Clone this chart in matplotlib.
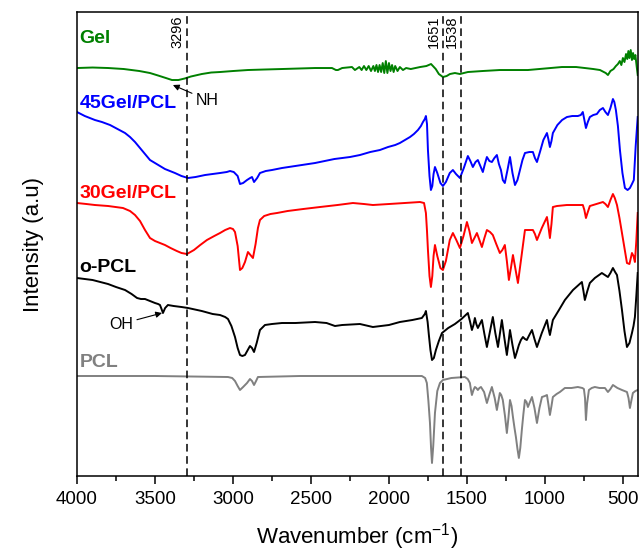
import matplotlib.pyplot as plt
from matplotlib.ticker import MultipleLocator
import matplotlib.transforms as mtransforms

plt.rcParams['font.family'] = ['Liberation Sans', 'DejaVu Sans']
plt.rcParams['mathtext.fontset'] = 'custom'
plt.rcParams['mathtext.rm'] = 'Liberation Sans'

# FTIR spectra, offset for display (arbitrary intensity units)
gel_wn = [4000, 3900, 3800, 3700, 3600, 3532, 3480, 3430, 3391, 3350, 3310, 3270,
          3200, 3140, 3083, 3000, 2904, 2800, 2686, 2580, 2474, 2365, 2340, 2327,
          2300, 2237, 2218,
          2190, 2175, 2160, 2145, 2130, 2115, 2100, 2090, 2080, 2070, 2060, 2050,
          2040, 2030, 2020, 2010, 2000, 1990, 1980, 1970, 1960, 1945, 1930, 1910,
          1890, 1860, 1830, 1800, 1760, 1730, 1700, 1680, 1654, 1630, 1609, 1577,
          1545, 1520, 1494, 1400, 1289, 1200, 1109, 1000, 891, 800, 744, 690, 647,
          610, 596, 580, 560, 545, 532, 520, 510, 500, 490, 480, 472, 465, 458,
          450, 442, 435, 428, 420, 412, 405]
gel_int = [408, 408.5, 408, 407, 405, 403, 400.5, 398, 396, 396, 397.5, 399.5,
           402, 403.5, 404, 405, 406, 406.5, 407, 407.5, 408, 408, 406, 406,
           408, 409, 406,
           409, 406, 410, 406, 410, 405, 410, 405, 411, 404, 411, 404,
           413, 403, 415, 403, 413, 405, 411, 404, 410, 405, 409, 406,
           408, 407, 408, 409, 410, 412, 407, 402, 399, 400, 402, 403,
           402, 403, 404, 405, 406, 406, 406, 407.5, 409, 409, 408, 407, 406,
           403, 401, 405, 407, 410, 412, 415, 411, 418, 414, 422, 417, 425, 418,
           426, 416, 423, 417, 421, 410, 401]

gel45_wn = [4000, 3950, 3885, 3840, 3788, 3740, 3692, 3660, 3628, 3596, 3564, 3532,
            3500, 3468, 3436, 3404, 3372, 3330, 3288, 3240, 3179, 3130, 3083, 3040,
            3019, 2995, 2970, 2955, 2935, 2910, 2890, 2878, 2865, 2845, 2827, 2790,
            2750, 2686, 2600, 2474, 2350, 2250, 2186, 2120, 2058, 2006, 1960, 1930,
            1897, 1865, 1840, 1814, 1795, 1782, 1770, 1763, 1756, 1750, 1740, 1731,
            1722, 1714, 1705, 1690, 1670, 1654, 1635, 1610, 1590, 1570, 1545, 1520,
            1494, 1478, 1462, 1445, 1430, 1414, 1398, 1385, 1372, 1356, 1340, 1324,
            1308, 1295, 1282, 1270, 1257, 1240, 1224, 1208, 1192, 1176, 1160, 1144,
            1128, 1100, 1077, 1064, 1051, 1030, 1010, 987, 978, 968, 958, 949, 920,
            890, 859, 825, 789, 770, 757, 747, 737, 725, 712, 690, 667, 648, 628,
            612, 596, 580, 564, 555, 545, 532, 519, 503, 487, 470, 455, 442, 430,
            418, 405]
gel45_int = [364, 360, 356, 354, 351, 347, 343, 339, 334, 328, 322, 316,
             313, 310, 307, 305, 303, 300, 298, 299, 301, 302, 303, 304,
             305, 304, 300, 292, 293, 296, 298, 299, 294, 298, 303, 305,
             306, 308, 310, 313, 317, 319, 321, 324, 326, 329, 331, 333,
             336, 339, 342, 346, 350, 354, 357, 360, 352, 326, 300, 286,
             290, 302, 309, 303, 293, 290, 294, 303, 306, 302, 298, 308,
             320, 315, 309, 314, 316, 310, 304, 312, 319, 315, 314, 318,
             321, 312, 306, 296, 293, 306, 319, 303, 291, 296, 306, 316,
             323, 324, 324, 318, 314, 325, 336, 343, 337, 329, 335, 343, 351,
             356, 359, 360, 360, 361, 364, 356, 348, 354, 359, 361, 362, 366, 368,
             364, 361, 368, 377, 374, 366, 350, 326, 303, 288, 286, 288, 292, 296,
             330, 359]

gel30_wn = [4000, 3940, 3885, 3800, 3705, 3660, 3628, 3596, 3564, 3532, 3500, 3468,
            3436, 3400, 3360, 3330, 3295, 3250, 3210, 3167, 3120, 3083, 3050, 3019,
            3000, 2987, 2970, 2955, 2940, 2923, 2904, 2888, 2872, 2855, 2840, 2827,
            2800, 2760, 2718, 2650, 2550, 2442, 2330, 2231, 2160, 2103, 2000, 1900,
            1801, 1775, 1763, 1756, 1750, 1740, 1731, 1722, 1714, 1705, 1690, 1670,
            1654, 1635, 1610, 1590, 1568, 1545, 1522, 1500, 1484, 1468, 1452, 1436,
            1420, 1404, 1388, 1372, 1352, 1334, 1312, 1289, 1273, 1257, 1244, 1231,
            1218, 1205, 1189, 1173, 1150, 1128, 1100, 1077, 1064, 1051, 1020, 987,
            978, 968, 958, 949, 923, 860, 800, 757, 747, 737, 725, 712, 670, 628,
            612, 596, 580, 564, 552, 538, 522, 506, 490, 474, 458, 442, 432, 423,
            414, 405]
gel30_int = [273, 272, 271, 270, 268, 265, 261, 255, 246, 238, 235, 233,
             231, 228, 225, 223, 222, 226, 231, 236, 240, 243, 246, 248,
             247, 244, 230, 206, 208, 214, 224, 221, 218, 232, 248, 256,
             260, 262, 263, 265, 267, 269, 271, 273, 272, 271, 272, 273,
             274, 273, 263, 245, 226, 200, 189, 200, 220, 231, 220, 208,
             206, 215, 236, 243, 236, 228, 240, 254, 245, 233, 238, 243,
             236, 229, 238, 246, 244, 241, 232, 223, 226, 231, 215, 196,
             208, 221, 207, 193, 220, 246, 246, 246, 242, 236, 248, 259,
             250, 238, 252, 269, 270, 271, 271, 271, 266, 258, 264, 270, 272, 274,
             272, 269, 276, 282, 278, 271, 258, 243, 228, 213, 212, 223, 220, 214,
             235, 263]

opcl_wn = [4000, 3949, 3900, 3850, 3801, 3750, 3692, 3650, 3615, 3590, 3564, 3532,
           3500, 3480, 3468, 3458, 3449, 3435, 3417, 3380, 3330, 3288, 3200, 3130,
           3083, 3050, 3032, 3010, 2987, 2970, 2955, 2940, 2923, 2905, 2891, 2878,
           2865, 2848, 2827, 2795, 2750, 2686, 2600, 2474, 2400, 2346, 2300, 2186,
           2103, 2000, 1930, 1850, 1789, 1770, 1763, 1752, 1744, 1734, 1724, 1712,
           1699, 1680, 1660, 1620, 1577, 1535, 1494, 1481, 1468, 1458, 1449, 1440,
           1430, 1417, 1404, 1388, 1372, 1352, 1334, 1318, 1301, 1289, 1276, 1260,
           1244, 1234, 1224, 1208, 1192, 1180, 1167, 1154, 1141, 1128, 1116, 1100,
           1083, 1067, 1051, 1020, 987, 978, 968, 958, 949, 910, 872, 820, 763,
           753, 744, 728, 712, 680, 635, 615, 596, 580, 564, 550, 538, 522, 506,
           490, 474, 458, 442, 432, 423, 414, 405]
opcl_int = [198, 197, 196, 194, 192, 189, 186, 182, 178, 177, 177, 175,
            173, 172, 171, 167, 163, 168, 171, 170, 169, 168, 165, 162,
            161, 159, 157, 150, 139, 128, 121, 120, 121, 126, 130, 128,
            124, 133, 146, 151, 152, 153, 153, 154, 153, 150, 151, 152,
            149, 151, 154, 156, 158, 162, 165, 154, 141, 126, 116, 118,
            126, 135, 143, 148, 152, 157, 163, 155, 146, 151, 158, 152,
            148, 152, 156, 142, 129, 145, 159, 143, 129, 142, 156, 138,
            121, 133, 146, 131, 118, 124, 131, 136, 139, 137, 136, 141,
            146, 137, 129, 143, 156, 148, 141, 149, 156, 166, 176, 186, 194,
            185, 176, 185, 193, 198, 203, 201, 199, 203, 208, 204, 201, 185, 166,
            145, 129, 133, 143, 150, 159, 180, 203]

pcl_wn = [4000, 3500, 3032, 3005, 2987, 2970, 2955, 2935, 2910, 2891, 2878, 2865,
          2852, 2840, 2571, 1930, 1789, 1768, 1757, 1747, 1737, 1730, 1724, 1716,
          1705, 1690, 1673, 1654, 1600, 1513, 1495, 1481, 1474, 1468, 1458, 1449,
          1440, 1430, 1420, 1410, 1390, 1372, 1355, 1340, 1322, 1308, 1298, 1289,
          1280, 1270, 1256, 1244, 1234, 1224, 1214, 1205, 1195, 1186, 1176, 1167,
          1158, 1148, 1138, 1128, 1118, 1109, 1096, 1083, 1067, 1051, 1035, 1019,
          1000, 987, 978, 968, 958, 949, 925, 904, 872, 830, 789, 760, 750, 743,
          737, 730, 718, 700, 680, 650, 615, 596, 580, 564, 535, 506, 490, 474,
          464, 455, 445, 436, 420, 405]
pcl_int = [100, 100, 99, 98, 95, 90, 86, 89, 93, 97, 95, 91,
           95, 99, 100, 100, 100, 98, 93, 75, 53, 28, 13, 30,
           63, 85, 93, 96, 98, 99, 97, 93, 86, 81, 86, 89,
           88, 86, 88, 89, 84, 73, 82, 89, 78, 66, 75, 83,
           81, 76, 60, 43, 58, 76, 70, 59, 48, 39, 27, 18,
           28, 46, 62, 76, 74, 69, 74, 79, 68, 53, 68, 79,
           80, 81, 72, 61, 70, 79, 82, 84, 88, 88, 89, 88, 87, 78,
           56, 72, 86, 88, 89, 88, 88, 84, 87, 91, 88, 86, 85, 84,
           78, 68, 76, 83, 85, 86]

series = [
    (gel_wn, gel_int, 'green', 'Gel', 438),
    (gel45_wn, gel45_int, 'blue', '45Gel/PCL', 373),
    (gel30_wn, gel30_int, 'red', '30Gel/PCL', 283),
    (opcl_wn, opcl_int, 'black', 'o-PCL', 209),
    (pcl_wn, pcl_int, 'gray', 'PCL', 114),
]
band_positions = [3296, 1651, 1538]

fig = plt.figure(figsize=(6.39, 5.54), dpi=100)
ax = fig.add_axes([0.1205, 0.1408, 0.8775, 0.8375])

for wn, inten, color, name, ylab in series:
    ax.plot(wn, inten, color=color, lw=1.4)
    ax.text(3985, ylab, name, color=color, fontsize=14, fontweight='bold',
            ha='left', va='center')

trans = mtransforms.blended_transform_factory(ax.transData, ax.transAxes)
for b in band_positions:
    ax.axvline(b, color='black', lw=1.1, ls=(0, (5, 3)))
    ax.text(b + 16, 0.993, str(b), rotation=90, ha='right', va='top',
            fontsize=10.5, transform=trans)

ax.annotate('NH', xy=(3385, 391), xytext=(3237, 376), fontsize=11.5,
            va='center', ha='left',
            arrowprops=dict(arrowstyle='-|>', color='black', lw=0.8,
                            shrinkA=1, shrinkB=0, mutation_scale=9))
ax.annotate('OH', xy=(3455, 163), xytext=(3795, 152), fontsize=11.5,
            va='center', ha='left',
            arrowprops=dict(arrowstyle='-|>', color='black', lw=0.8,
                            shrinkA=1, shrinkB=0, mutation_scale=9))

ax.set_xlim(4000, 405)
ax.set_ylim(0, 464)
ax.xaxis.set_major_locator(MultipleLocator(500))
ax.xaxis.set_minor_locator(MultipleLocator(250))
ax.set_yticks([])
ax.tick_params(axis='x', which='major', direction='out', length=6, width=1.1,
               labelsize=13.5, pad=5)
ax.tick_params(axis='x', which='minor', direction='out', length=3.5, width=1.1)
for s in ax.spines.values():
    s.set_linewidth(1.1)

ax.set_xlabel('Wavenumber (cm$^{-1}$)', fontsize=16, labelpad=9)
ax.set_ylabel('Intensity (a.u)', fontsize=16, labelpad=24)

fig.savefig('out.png', dpi=100)
